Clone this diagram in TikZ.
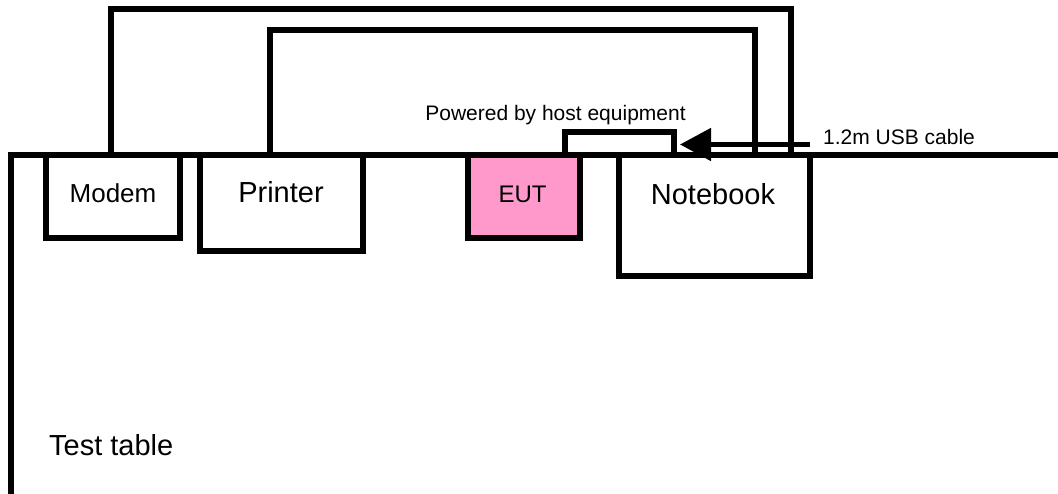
\documentclass[tikz,border=0pt]{standalone}
\usepackage{fontspec}
\setmainfont{Liberation Sans}
\usetikzlibrary{arrows.meta,calc}
\definecolor{eutpink}{HTML}{FF99CC}
\tikzset{
  box/.style={draw=black,line width=6pt,rectangle,inner sep=0pt,fill=white},
  wire/.style={draw=black,line width=6pt,line join=miter},
  lbl/.style={inner sep=0pt,anchor=base},
  big/.style={font=\fontsize{29}{32}\selectfont},
  mid/.style={font=\fontsize{26}{30}\selectfont},
  small/.style={font=\fontsize{21}{25}\selectfont},
}
\begin{document}
\begin{tikzpicture}[x=1pt,y=-1pt]
\useasboundingbox (0,0) rectangle (1058,494);
% boxes
\node[box,minimum width=134pt,minimum height=83pt] (modem) at (113,196.5) {};
\node[box,minimum width=163pt,minimum height=96pt] (printer) at (281.5,203) {};
\node[box,fill=eutpink,minimum width=112pt,minimum height=83pt] (eut) at (524,196.5) {};
\node[box,minimum width=109pt,minimum height=23pt] (usb) at (619.5,143.5) {};
\node[box,minimum width=191pt,minimum height=121pt] (nb) at (714.5,215.5) {};
% table
\coordinate (tbot) at (11,494);
\coordinate (tright) at (1058,155);
\draw[wire] (tbot) -- (11,155) -- (tright);
% cables
\draw[wire] ([xshift=-2pt]modem.north) -- ++(0,-142.5) -| ([xshift=-22pt]nb.north east);
\draw[wire] ([xshift=73pt]printer.north west) -- ++(0,-122) -| ([xshift=-58pt]nb.north east);
% arrow
\coordinate (usbend) at (810,144.5);
\draw[line width=5pt,-{Triangle[length=31pt,width=32pt]}] (usbend) -- ([xshift=3pt]usbend -| usb.east);
% labels
\node[lbl,mid] (tmodem) at (113,203) {Modem};
\node[lbl,big] (tprinter) at (281,203) {Printer};
\node[lbl,font=\fontsize{24}{28}\selectfont] (teut) at (522.5,203) {EUT};
\node[lbl,big] (tnb) at (713,205) {Notebook};
\node[lbl,big,anchor=base west] (ttable) at (49,455) {Test table};
\node[lbl,small] (tpow) at (555.5,121) {Powered by host equipment};
\node[lbl,small,anchor=base west] (tusb) at (823,145) {1.2m USB cable};
\end{tikzpicture}
\end{document}
